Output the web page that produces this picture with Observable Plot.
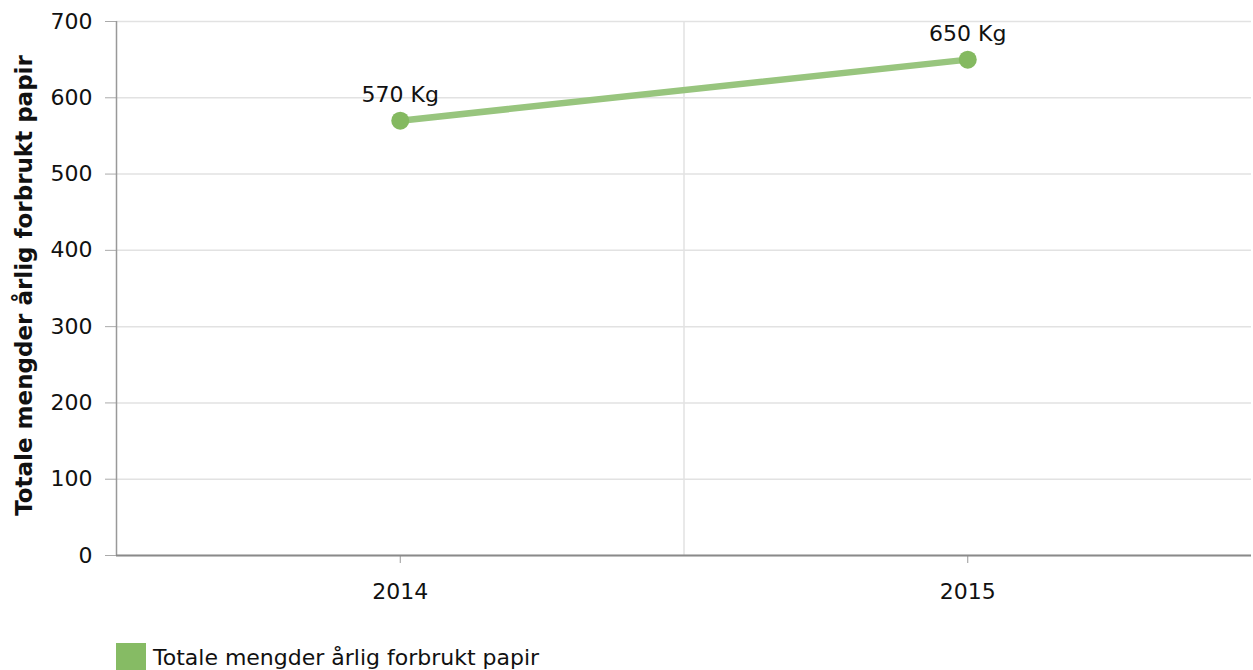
<!DOCTYPE html>
<html><head><meta charset="utf-8">
<script src="https://cdn.jsdelivr.net/npm/d3@7"></script>
<script src="https://cdn.jsdelivr.net/npm/@observablehq/plot@0.6"></script>
<style>
html,body{margin:0;padding:0;background:#fff;font-family:Verdana,"DejaVu Sans",sans-serif;}
#legend{display:flex;align-items:center;margin-left:116px;margin-top:11px;font-size:22px;color:#111;height:28px;}
#legend .sw{width:30px;height:28px;background:#86bb64;margin-right:7px;}
</style></head><body>
<div id="chart"></div>
<div id="legend"></div>
<script>
const years = [2014, 2015];
const values = [570, 650];
const valueLabels = ["570 Kg", "650 Kg"];
const yTicks = [0, 100, 200, 300, 400, 500, 600, 700];
const seriesName = "Totale mengder årlig forbrukt papir";
const yTitle = "Totale mengder årlig forbrukt papir";

const data = years.map((y, i) => ({year: y, value: values[i], label: valueLabels[i]}));
const xDomain = [years[0] - 0.5, years[years.length - 1] + 0.5];
const dividers = d3.pairs(years).map(([a, b]) => (a + b) / 2);

const fontFamily = 'Verdana, "DejaVu Sans", sans-serif';

const chart = Plot.plot({
  width: 1253,
  height: 632,
  marginLeft: 116,
  marginRight: 2,
  marginTop: 21,
  marginBottom: 77,
  style: {fontFamily, fontSize: "22px", color: "#111", background: "#fff", overflow: "visible"},
  x: {type: "linear", domain: xDomain},
  y: {domain: [0, 700]},
  marks: [
    Plot.ruleY(yTicks, {y: d => d, stroke: "#e2e2e2", strokeWidth: 1.5}),
    Plot.ruleX(dividers, {x: d => d, stroke: "#e2e2e2", strokeWidth: 1.5}),
    Plot.axisY(yTicks, {tickSize: 11, tickPadding: 13, stroke: "#aaa", fontSize: 22, fill: "#111", label: null}),
    Plot.axisX(years, {tickSize: 8, tickPadding: 20, tickFormat: d => String(d), stroke: "#999", fontSize: 22, fill: "#111", label: null}),
    Plot.ruleX([xDomain[0]], {stroke: "#999", strokeWidth: 1.5}),
    Plot.ruleY([0], {stroke: "#8a8a8a", strokeWidth: 2}),
    Plot.lineY(data, {x: "year", y: "value", stroke: "#98c57e", strokeWidth: 6.5}),
    Plot.dot(data, {x: "year", y: "value", r: 9, fill: "#84b960", stroke: null}),
    Plot.text(data, {x: "year", y: "value", text: "label", dy: -26, fontSize: 22, fill: "#111"}),
    Plot.text([yTitle], {frameAnchor: "left", textAnchor: "middle", text: d => d, rotate: -90, dx: -92, dy: -3, fontWeight: "bold", fontSize: 23, fill: "#111"})
  ]
});
document.getElementById("chart").appendChild(chart);

const legend = document.getElementById("legend");
legend.innerHTML = `<div class="sw"></div><span>${seriesName}</span>`;
</script>
</body></html>
